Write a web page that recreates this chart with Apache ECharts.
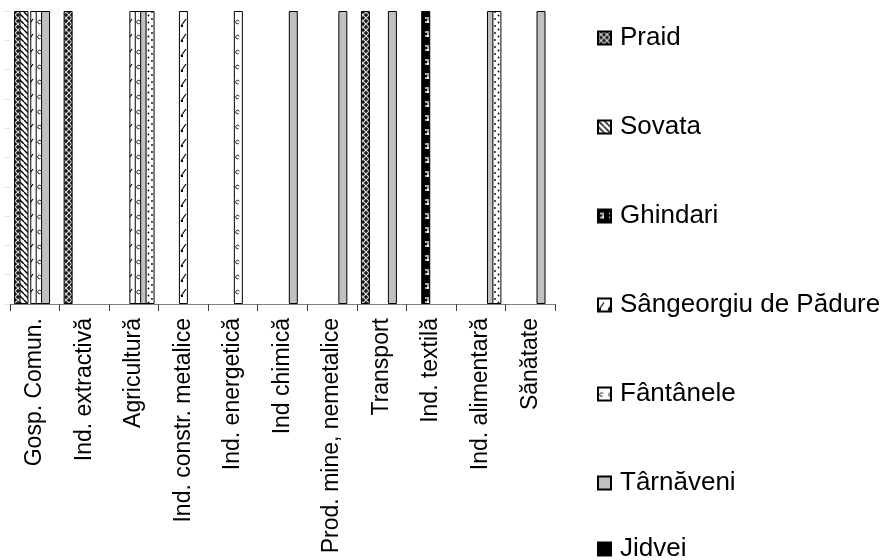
<!DOCTYPE html>
<html><head><meta charset="utf-8">
<script src="https://cdn.jsdelivr.net/npm/echarts@6/dist/echarts.min.js"></script>
<style>html,body{margin:0;padding:0;background:#fff}#c{width:894px;height:560px}</style>
</head><body><div id="c"></div>
<script>
// ---- data ----
const categories = ['Gosp. Comun.', 'Ind. extractivă', 'Agricultură', 'Ind. constr. metalice', 'Ind. energetică', 'Ind chimică', 'Prod. mine, nemetalice', 'Transport', 'Ind. textilă', 'Ind. alimentară', 'Sănătate'];
const seriesNames = ['Praid', 'Sovata', 'Ghindari', 'Sângeorgiu de Pădure', 'Fântânele', 'Târnăveni', 'Jidvei'];
const praid      = [100, 100, null, null, null, null, null, 100, null, null, null];
const sovata     = [100, null, null, null, null, null, null, null, null, null, null];
const ghindari   = [null, null, null, null, null, null, null, null, 100, null, null];
const sangeorgiu = [100, null, 100, 100, null, null, null, null, null, null, null];
const fantanele  = [100, null, 100, null, 100, null, null, null, null, null, null];
const tarnaveni  = [100, null, 100, null, null, 100, 100, 100, null, 100, 100];
const jidvei     = [null, null, 100, null, null, null, null, null, null, 100, null];
const seriesValues = [praid, sovata, ghindari, sangeorgiu, fantanele, tarnaveni, jidvei];

// ---- patterns ----
function pat(w, h, draw) {
  const c = document.createElement('canvas'); c.width = w; c.height = h;
  const g = c.getContext('2d'); draw(g, w, h);
  return { image: c, repeat: 'repeat' };
}
const fills = [
  pat(6, 6, (g, w, h) => { g.fillStyle = '#1a1a1a'; g.fillRect(0, 0, w, h); g.strokeStyle = '#d8d8d8'; g.lineWidth = 1.2;
    g.beginPath(); g.moveTo(0, 0); g.lineTo(w, h); g.moveTo(w, 0); g.lineTo(0, h); g.stroke(); }),
  pat(6, 6, (g, w, h) => { g.fillStyle = '#fff'; g.fillRect(0, 0, w, h); g.strokeStyle = '#000'; g.lineWidth = 1.4;
    g.beginPath(); [-6, 0, 6].forEach(k => { g.moveTo(k, 0); g.lineTo(k + 6, 6); }); g.stroke(); }),
  pat(9, 14, (g, w, h) => { g.fillStyle = '#000'; g.fillRect(0, 0, w, h); g.fillStyle = '#aaa';
    g.fillRect(2, 3, 2, 2); g.fillRect(4, 5, 2, 2); g.fillRect(2, 7, 2, 2); g.fillRect(4, 3, 2, 2); g.fillStyle = '#fff'; g.fillRect(4, 7, 2, 2); }),
  pat(9, 15, (g, w, h) => { g.fillStyle = '#fff'; g.fillRect(0, 0, w, h); g.strokeStyle = '#000'; g.lineWidth = 1.2;
    g.beginPath(); g.moveTo(1, 11); g.lineTo(6, 4); g.stroke(); g.fillStyle = '#000'; g.fillRect(1, 10, 2, 2); }),
  pat(9, 15, (g, w, h) => { g.fillStyle = '#fff'; g.fillRect(0, 0, w, h); g.strokeStyle = '#222'; g.lineWidth = 1;
    g.beginPath(); g.arc(3.5, 7, 1.8, 0.3 * Math.PI, 1.9 * Math.PI); g.stroke(); }),
  '#c0c0c0',
  pat(7, 7, (g, w, h) => { g.fillStyle = '#fff'; g.fillRect(0, 0, w, h); g.fillStyle = '#000';
    g.beginPath(); g.arc(1.5, 1.5, 0.9, 0, 2 * Math.PI); g.arc(5, 5, 0.9, 0, 2 * Math.PI); g.fill(); })
];

const font = 'Liberation Sans, Arial, sans-serif';
const series = seriesNames.map((n, i) => ({
  name: n, type: 'bar', data: seriesValues[i], barWidth: 9, barGap: '-40%',
  itemStyle: { color: fills[i], borderColor: '#000', borderWidth: 1 },
  emphasis: { disabled: true }, animation: false
}));

const legendText = { fontSize: 26, fontFamily: font, color: '#000', lineHeight: 28, padding: [0, 0, 0, 4] };
const chart = echarts.init(document.getElementById('c'), null, { renderer: 'canvas' });
chart.setOption({
  animation: false,
  grid: { left: 10, right: 339, top: 11, bottom: 256, containLabel: false },
  xAxis: {
    type: 'category', data: categories,
    axisLine: { lineStyle: { color: '#808080', width: 1 } },
    axisTick: { show: true, interval: 0, length: 7, lineStyle: { color: '#404040' } },
    axisLabel: { interval: 0, rotate: 90, margin: 14, fontSize: 23, fontFamily: font, color: '#000' }
  },
  yAxis: {
    type: 'value', min: 0, max: 100, interval: 10,
    axisLine: { show: false }, splitLine: { show: false },
    axisTick: { show: true, length: 6, lineStyle: { color: '#e4e4e4' } },
    axisLabel: { show: false }
  },
  legend: [
    { orient: 'vertical', left: 597, top: 24, padding: 0, itemWidth: 13, itemHeight: 13, itemGap: 61, selectedMode: false,
      icon: 'rect', data: seriesNames.slice(0, 6), textStyle: legendText },
    { orient: 'vertical', left: 597, top: 535, padding: 0, itemWidth: 13, itemHeight: 13, selectedMode: false, icon: 'rect',
      data: [{ name: seriesNames[6], itemStyle: { color: '#000' } }], textStyle: legendText }
  ],
  series: series
});
</script></body></html>
